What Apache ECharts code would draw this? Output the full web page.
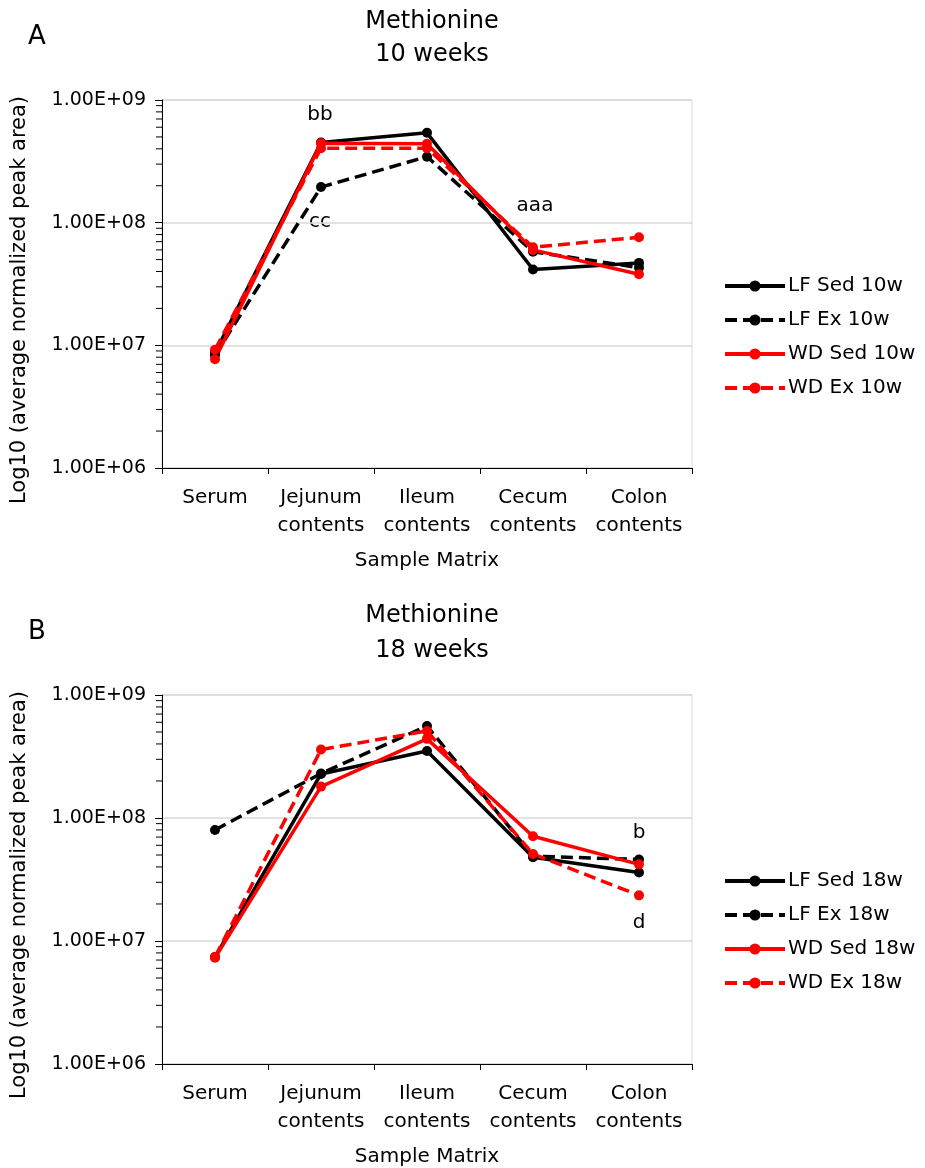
<!DOCTYPE html>
<html>
<head>
<meta charset="utf-8">
<script src="https://cdn.jsdelivr.net/npm/echarts@6/dist/echarts.min.js"></script>
<style>
  html, body { margin: 0; padding: 0; background: #fff; }
  #chart { width: 925px; height: 1168px; }
</style>
</head>
<body>
<div id="chart"></div>
<script>
// sample matrix categories
var categories = ['Serum', 'Jejunum\ncontents', 'Ileum\ncontents', 'Cecum\ncontents', 'Colon\ncontents']

// 10 weeks (panel A)
var lfSed10 = [8.7e6, 4.5e8, 5.4e8, 4.15e7, 4.7e7]
var lfEx10  = [8.3e6, 1.95e8, 3.45e8, 5.8e7, 4.3e7]
var wdSed10 = [7.7e6, 4.45e8, 4.4e8, 6.0e7, 3.8e7]
var wdEx10  = [9.2e6, 4.05e8, 4.05e8, 6.3e7, 7.6e7]

// 18 weeks (panel B)
var lfSed18 = [7.4e6, 2.28e8, 3.5e8, 4.8e7, 3.6e7]
var lfEx18  = [8.0e7, 2.3e8, 5.6e8, 4.9e7, 4.6e7]
var wdSed18 = [7.3e6, 1.8e8, 4.4e8, 7.1e7, 4.2e7]
var wdEx18  = [7.4e6, 3.6e8, 5.1e8, 5.1e7, 2.35e7]

// minor tick values on the log axis (2..9 per decade)
var minorTicks = [
  2e6, 3e6, 4e6, 5e6, 6e6, 7e6, 8e6, 9e6,
  2e7, 3e7, 4e7, 5e7, 6e7, 7e7, 8e7, 9e7,
  2e8, 3e8, 4e8, 5e8, 6e8, 7e8, 8e8, 9e8
]

var FONT = '"DejaVu Sans", Verdana, sans-serif'
var YNAME = 'Log10 (average normalized peak area)'

function sciLabel(v) {
  var e = Math.round(Math.log10(v))
  var m = v / Math.pow(10, e)
  return m.toFixed(2) + 'E+' + (e < 10 ? '0' + e : e)
}

function xAxisFor(gi) {
  return {
    type: 'category',
    gridIndex: gi,
    data: categories,
    boundaryGap: true,
    axisLine: { lineStyle: { color: '#000', width: 1 } },
    axisTick: { show: true, length: 6, lineStyle: { color: '#000' } },
    axisLabel: { color: '#000', fontSize: 20, fontFamily: FONT, lineHeight: 28, margin: 16, interval: 0 },
    name: 'Sample Matrix',
    nameLocation: 'middle',
    nameGap: 83,
    nameTextStyle: { color: '#000', fontSize: 20, fontFamily: FONT },
    splitLine: { show: false }
  }
}

function yAxisFor(gi) {
  return {
    type: 'log',
    gridIndex: gi,
    logBase: 10,
    min: 1e6,
    max: 1e9,
    axisLine: { show: true, lineStyle: { color: '#000', width: 1 } },
    axisTick: { show: true, length: 7, lineStyle: { color: '#000' } },
    axisLabel: { color: '#000', fontSize: 19, fontFamily: FONT, margin: 16, formatter: sciLabel },
    splitLine: { show: true, lineStyle: { color: '#d9d9d9', width: 1.5 } }
  }
}

function lineSeries(name, data, color, dashed, gi) {
  return {
    name: name,
    type: 'line',
    xAxisIndex: gi,
    yAxisIndex: gi,
    data: data,
    symbol: 'circle',
    symbolSize: 10,
    itemStyle: { color: color },
    lineStyle: { color: color, width: 3.5, type: dashed ? [12, 6] : 'solid' },
    animation: false
  }
}

function minorTickSeries(gi) {
  return {
    type: 'custom',
    xAxisIndex: gi,
    yAxisIndex: gi,
    silent: true,
    z: 5,
    data: minorTicks.map(function (v) { return [0, v] }),
    renderItem: function (params, api) {
      var y = api.coord([0, api.value(1)])[1]
      var x = params.coordSys.x
      return {
        type: 'line',
        shape: { x1: x - 6, y1: y, x2: x, y2: y },
        style: { stroke: '#000', lineWidth: 1 }
      }
    },
    animation: false
  }
}

function legendFor(top, names) {
  return {
    data: names,
    orient: 'vertical',
    left: 718,
    top: top,
    itemWidth: 60,
    itemHeight: 14,
    itemGap: 14,
    lineStyle: { width: 4 },
    textStyle: { color: '#000', fontSize: 20, fontFamily: FONT, lineHeight: 20, padding: [0, 0, 0, -2] },
    selectedMode: false
  }
}

function annot(text, x, y) {
  return {
    type: 'text',
    x: x,
    y: y,
    style: { text: text, fill: '#000', font: '20px ' + FONT, align: 'center', verticalAlign: 'middle' }
  }
}

function yName(y) {
  return {
    type: 'text',
    x: 20,
    y: y,
    rotation: Math.PI / 2,
    style: { text: YNAME, fill: '#000', font: '21px ' + FONT, align: 'center', verticalAlign: 'middle' }
  }
}

var chart = echarts.init(document.getElementById('chart'))
chart.setOption({
  backgroundColor: '#fff',
  animation: false,
  title: [
    { text: 'Methionine\n10 weeks', left: 427, top: 0, textAlign: 'center',
      textStyle: { color: '#000', fontSize: 24, fontWeight: 'normal', fontFamily: FONT, lineHeight: 33 } },
    { text: 'Methionine\n18 weeks', left: 427, top: 593, textAlign: 'center',
      textStyle: { color: '#000', fontSize: 24, fontWeight: 'normal', fontFamily: FONT, lineHeight: 35 } },
    { text: 'A', left: 23, top: 19, textStyle: { color: '#000', fontSize: 26, fontWeight: 'normal', fontFamily: FONT } },
    { text: 'B', left: 23, top: 614, textStyle: { color: '#000', fontSize: 26, fontWeight: 'normal', fontFamily: FONT } }
  ],
  grid: [
    { left: 162, top: 100, width: 530, height: 368, show: true, borderColor: '#d9d9d9', borderWidth: 1 },
    { left: 162, top: 695, width: 530, height: 369, show: true, borderColor: '#d9d9d9', borderWidth: 1 }
  ],
  xAxis: [xAxisFor(0), xAxisFor(1)],
  yAxis: [yAxisFor(0), yAxisFor(1)],
  legend: [
    legendFor(271, ['LF Sed 10w', 'LF Ex 10w', 'WD Sed 10w', 'WD Ex 10w']),
    legendFor(866, ['LF Sed 18w', 'LF Ex 18w', 'WD Sed 18w', 'WD Ex 18w'])
  ],
  series: [
    lineSeries('LF Sed 10w', lfSed10, '#000', false, 0),
    lineSeries('LF Ex 10w', lfEx10, '#000', true, 0),
    lineSeries('WD Sed 10w', wdSed10, '#ff0000', false, 0),
    lineSeries('WD Ex 10w', wdEx10, '#ff0000', true, 0),
    lineSeries('LF Sed 18w', lfSed18, '#000', false, 1),
    lineSeries('LF Ex 18w', lfEx18, '#000', true, 1),
    lineSeries('WD Sed 18w', wdSed18, '#ff0000', false, 1),
    lineSeries('WD Ex 18w', wdEx18, '#ff0000', true, 1),
    minorTickSeries(0),
    minorTickSeries(1)
  ],
  graphic: [
    yName(300),
    yName(895),
    annot('bb', 320, 115),
    annot('cc', 320, 222),
    annot('aaa', 535, 206),
    annot('b', 639, 833),
    annot('d', 639, 923)
  ]
})
</script>
</body>
</html>
